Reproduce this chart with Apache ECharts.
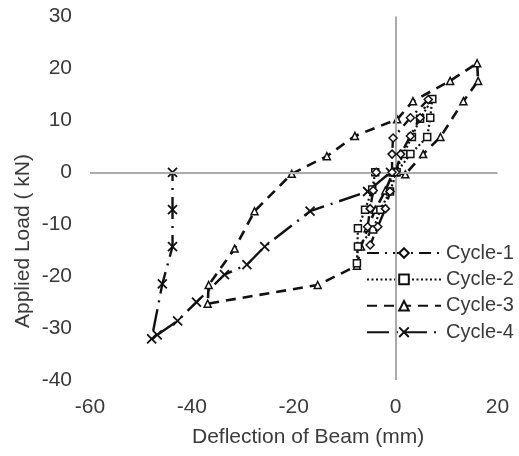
<!DOCTYPE html>
<html>
<head>
<meta charset="utf-8">
<script src="https://cdn.jsdelivr.net/npm/echarts@6/dist/echarts.min.js"></script>
<style>
html,body{margin:0;padding:0;background:#fff;}
#chart{width:519px;height:456px;}
</style>
</head>
<body>
<div id="chart"></div>
<script>
// ---- data (deflection mm, load kN) ----
var seriesNames = ['Cycle-1', 'Cycle-2', 'Cycle-3', 'Cycle-4'];
var xTicks = [-60, -40, -20, 0, 20];
var yTicks = [-40, -30, -20, -10, 0, 10, 20, 30];

var cycle1X = [0, 1.0, 2.9, 4.8, 6.4, 2.9, -0.5, -0.7, -0.7, -1.1, -2.0, -3.5, -5.0, -5.5, -5.0, -4.4, -3.8];
var cycle1Y = [0, 3.5, 7.0, 10.5, 14.0, 10.5, 6.6, 3.5, 0, -3.7, -7.0, -10.5, -14.0, -10.5, -7.0, -3.5, 0];

var cycle2X = [0, 1.5, 3.2, 4.8, 7.2, 6.8, 6.2, 2.9, 0.2, -1.1, -3.0, -4.4, -7.4, -7.6, -7.4, -6.0, -4.6, -4.0];
var cycle2Y = [0, 3.5, 6.8, 10.3, 14.1, 10.5, 6.8, 3.5, 0, -3.7, -7.2, -11.0, -14.3, -17.5, -10.8, -7.2, -3.3, 0];

var cycle3X = [-0.5, 1.9, 5.4, 8.8, 13.3, 16.2, 16.0, 10.7, 3.4, 0.3, -8.0, -13.5, -20.4, -27.7, -31.6, -36.7, -36.9, -15.3, -7.6, -6.8, -5.5, -4.0, -2.0, -0.5];
var cycle3Y = [0, -0.4, 3.5, 6.8, 13.7, 17.6, 21.0, 17.6, 13.7, 10.2, 7.0, 3.1, -0.3, -7.5, -14.7, -21.7, -25.3, -21.7, -18.0, -14.3, -10.8, -7.2, -3.5, 0];

var cycle4X = [-1.0, -5.5, -16.8, -25.7, -29.2, -33.6, -39.1, -42.8, -46.8, -47.9, -45.8, -43.8, -43.8, -43.8];
var cycle4Y = [0, -3.7, -7.5, -14.3, -17.8, -19.7, -25.0, -28.6, -31.3, -32.1, -21.5, -14.3, -7.2, 0];

function zip(xs, ys) { return xs.map(function (x, i) { return [x, ys[i]]; }); }

var FONT = '"Liberation Sans", Arial, sans-serif';
var TXT = '#3a3a3a';
var LINE = '#111';
var markerStyle = { color: '#fff', borderColor: LINE, borderWidth: 1.5 };

var chart = echarts.init(document.getElementById('chart'), null, { renderer: 'canvas' });
chart.setOption({
  animation: false,
  backgroundColor: '#fff',
  grid: { left: 90, right: 21.5, top: 16.5, bottom: 76 },
  xAxis: {
    type: 'value', min: xTicks[0], max: xTicks[xTicks.length - 1], interval: 20,
    axisLine: { show: false }, axisTick: { show: false }, splitLine: { show: false },
    axisLabel: { fontSize: 21, fontFamily: FONT, color: TXT, margin: 17 }
  },
  yAxis: {
    type: 'value', min: yTicks[0], max: yTicks[yTicks.length - 1], interval: 10,
    axisLine: { show: false }, axisTick: { show: false }, splitLine: { show: false },
    axisLabel: { fontSize: 21, fontFamily: FONT, color: TXT, margin: 18 }
  },
  legend: {
    data: seriesNames,
    orient: 'vertical', left: 366, top: 243,
    itemWidth: 74, itemHeight: 12, itemGap: 6.4,
    padding: 0,
    textStyle: { fontSize: 20, fontFamily: FONT, color: TXT },
    backgroundColor: 'transparent'
  },
  graphic: [
    { type: 'text', left: 192, top: 427, style: { text: 'Deflection of Beam (mm)', font: '21px ' + FONT, fill: TXT } },
    { type: 'text', x: 13, y: 328, rotation: Math.PI / 2, style: { text: 'Applied Load ( kN)', font: '21px ' + FONT, fill: TXT } }
  ],
  series: [
    {
      name: 'zero', type: 'line', data: [], silent: true, z: 1,
      markLine: {
        silent: true, symbol: 'none', label: { show: false },
        lineStyle: { color: '#ababab', width: 2, type: 'solid' },
        data: [{ xAxis: 0 }, { yAxis: 0 }]
      }
    },
    {
      name: 'Cycle-1', type: 'line', z: 5, data: zip(cycle1X, cycle1Y),
      symbol: 'diamond', symbolSize: 8, itemStyle: markerStyle,
      lineStyle: { color: LINE, width: 2.4, type: [12, 6, 2, 6] }
    },
    {
      name: 'Cycle-2', type: 'line', z: 4, data: zip(cycle2X, cycle2Y),
      symbol: 'rect', symbolSize: 7, itemStyle: markerStyle,
      lineStyle: { color: LINE, width: 2.2, type: [2, 2.5] }
    },
    {
      name: 'Cycle-3', type: 'line', z: 3, data: zip(cycle3X, cycle3Y),
      symbol: 'triangle', symbolSize: 7, itemStyle: markerStyle,
      lineStyle: { color: LINE, width: 2.6, type: [10, 7] }
    },
    {
      name: 'Cycle-4', type: 'line', z: 2, data: zip(cycle4X, cycle4Y),
      symbol: 'path://M0,0L10,10M10,0L0,10', symbolSize: 9,
      itemStyle: { color: 'none', borderColor: LINE, borderWidth: 1.8 },
      lineStyle: { color: LINE, width: 2.4, type: [22, 7, 2, 7] }
    }
  ]
});
</script>
</body>
</html>
